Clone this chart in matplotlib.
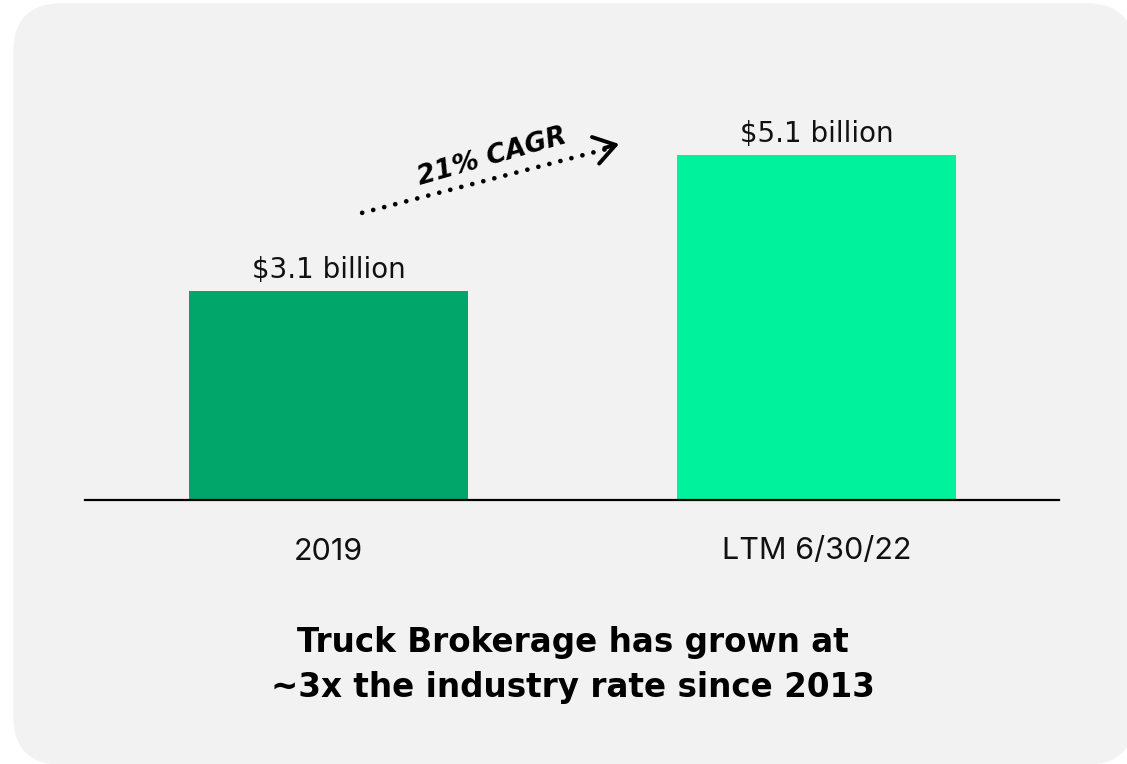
import matplotlib.pyplot as plt
from matplotlib.patches import FancyBboxPatch

# data
categories = ["2019", "LTM 6/30/22"]
revenue = [3.1, 5.1]  # USD billion
value_labels = ["$3.1 billion", "$5.1 billion"]
bar_colors = ["#00a66a", "#00f29c"]
cagr_label = "21% CAGR"
title_lines = ["Truck Brokerage has grown at", "~3x the industry rate since 2013"]

W, H = 1127, 764
fig = plt.figure(figsize=(W / 100, H / 100), dpi=100)
fig.patch.set_facecolor("white")

# light grey rounded card behind everything (pixel coords via inches)
card = FancyBboxPatch((13 / 100, (H - 765) / 100), (1135 - 13) / 100, (765 - 3) / 100,
                      boxstyle="round,pad=0,rounding_size=0.5",
                      transform=fig.dpi_scale_trans, facecolor="#f2f2f2",
                      edgecolor="none", zorder=-5)
fig.patches.append(card)

# main axes: baseline at y=500px, spanning x 85..1059px
ax_l, ax_r = 85, 1059
ax_b, ax_t = 500, 100
ax = fig.add_axes([ax_l / W, (H - ax_b) / H, (ax_r - ax_l) / W, (ax_b - ax_t) / H])
ax.set_facecolor("none")
ax.set_zorder(2)

x = [0, 1]
ax.bar(x, revenue, width=0.572, color=bar_colors, zorder=2)
ax.set_xlim(-0.499, 1.497)
ax.set_ylim(0, 5.92)

for xi, v, lab in zip(x, revenue, value_labels):
    ax.annotate(lab, (xi, v), xytext=(0, 5), textcoords="offset points",
                ha="center", va="bottom", fontsize=20, family="DejaVu Sans", color="#111111")

ax.set_xticks(x)
ax.set_xticklabels(categories, fontsize=22, family="Inter", color="#111111")
ax.tick_params(axis="x", length=0, pad=27)
ax.set_yticks([])
for s in ["top", "left", "right"]:
    ax.spines[s].set_visible(False)
ax.spines["bottom"].set_linewidth(1.6)
ax.spines["bottom"].set_color("black")

# dotted CAGR arrow between the bars (round dots + solid open head)
ax.plot([0.069, 0.583], [4.25, 5.22], color="black", lw=3.4,
        linestyle=(0, (0.01, 2.4)), dash_capstyle="round", zorder=3)
ax.annotate("", xy=(0.601, 5.28), xytext=(0.56, 5.20),
            arrowprops=dict(arrowstyle="->,head_length=0.5,head_width=0.33",
                            lw=2.8, color="black", mutation_scale=30), zorder=3)
ax.text(0.335, 5.08, cagr_label, rotation=16, ha="center", va="center",
        fontsize=19, fontweight="bold", fontstyle="italic", family="DejaVu Sans",
        transform=ax.transData, rotation_mode="anchor")

# bottom caption
fig.text(573 / W, 1 - 652 / H, title_lines[0], ha="center", va="baseline",
         fontsize=23.5, fontweight="bold", family="DejaVu Sans", color="black")
fig.text(573 / W, 1 - 697 / H, title_lines[1], ha="center", va="baseline",
         fontsize=23.5, fontweight="bold", family="DejaVu Sans", color="black")

fig.savefig("out.png", dpi=100, facecolor=fig.get_facecolor())
